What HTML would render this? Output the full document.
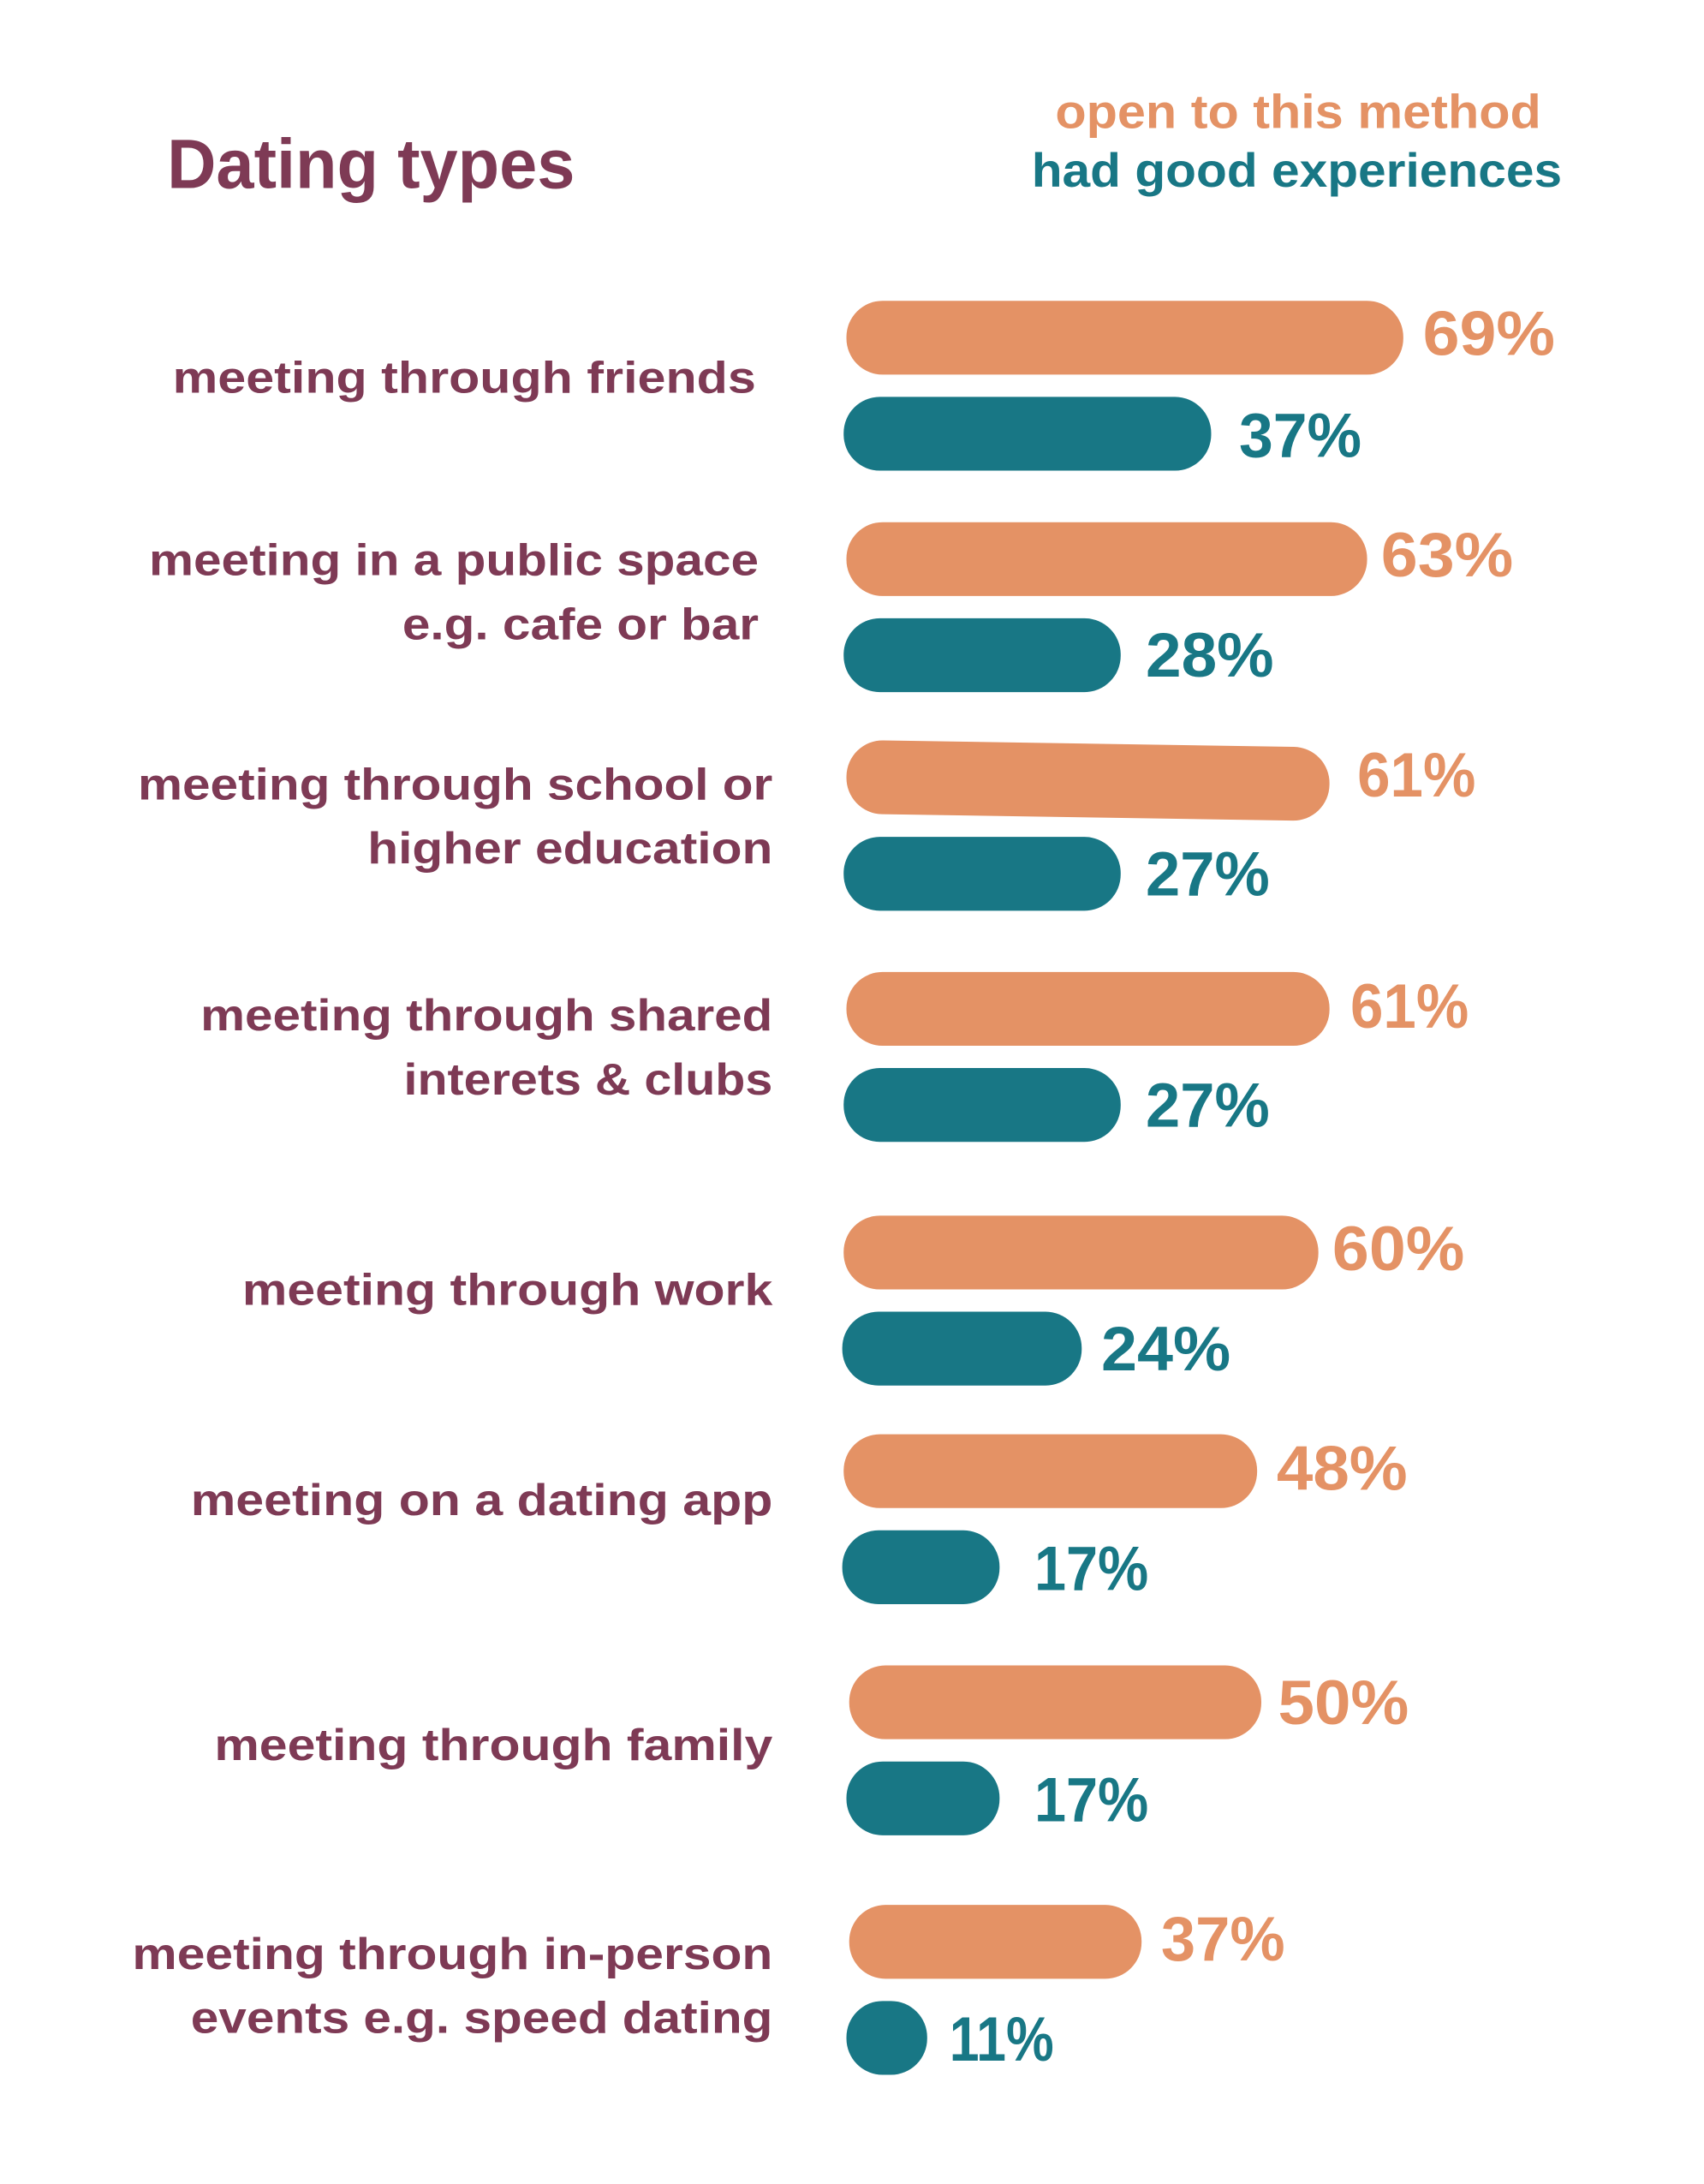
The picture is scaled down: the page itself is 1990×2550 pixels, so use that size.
<!DOCTYPE html>
<html><head><meta charset="utf-8"><style>
html,body{margin:0;padding:0;background:#fff;}
svg{display:block;}
text{font-family:"Liberation Sans",sans-serif;font-weight:bold;}
.l{fill:#7E3A55;font-size:32px;text-anchor:end;}
.o{fill:#E49265;}
.t{fill:#187785;}
.p{font-size:45px;}
</style></head><body>
<svg width="1990" height="2550" viewBox="0 0 1224 1568.4" xmlns="http://www.w3.org/2000/svg">
<text x="120" y="135" fill="#7E3A55" font-size="50" textLength="293" lengthAdjust="spacingAndGlyphs">Dating types</text>
<text x="758" y="92" class="o" font-size="34" textLength="349" lengthAdjust="spacingAndGlyphs">open to this method</text>
<text x="741" y="134" class="t" font-size="34" textLength="381" lengthAdjust="spacingAndGlyphs">had good experiences</text>

<text x="543" y="282" class="l" textLength="419" lengthAdjust="spacingAndGlyphs">meeting through friends</text>
<text x="545" y="413" class="l" textLength="438" lengthAdjust="spacingAndGlyphs">meeting in a public space</text>
<text x="545" y="459" class="l" textLength="256" lengthAdjust="spacingAndGlyphs">e.g. cafe or bar</text>
<text x="555" y="574" class="l" textLength="456" lengthAdjust="spacingAndGlyphs">meeting through school or</text>
<text x="555" y="620" class="l" textLength="291" lengthAdjust="spacingAndGlyphs">higher education</text>
<text x="555" y="740" class="l" textLength="411" lengthAdjust="spacingAndGlyphs">meeting through shared</text>
<text x="555" y="786" class="l" textLength="265" lengthAdjust="spacingAndGlyphs">interets &amp; clubs</text>
<text x="555" y="937" class="l" textLength="381" lengthAdjust="spacingAndGlyphs">meeting through work</text>
<text x="555" y="1088" class="l" textLength="418" lengthAdjust="spacingAndGlyphs">meeting on a dating app</text>
<text x="555" y="1264" class="l" textLength="401" lengthAdjust="spacingAndGlyphs">meeting through family</text>
<text x="555" y="1414" class="l" textLength="460" lengthAdjust="spacingAndGlyphs">meeting through in-person</text>
<text x="555" y="1460" class="l" textLength="418" lengthAdjust="spacingAndGlyphs">events e.g. speed dating</text>

<g class="o">
<rect x="608" y="216" width="400" height="53" rx="26"/>
<rect x="608" y="375" width="374" height="53" rx="26"/>
<rect x="608" y="534" width="347" height="53" rx="26" transform="rotate(0.9 781 560)"/>
<rect x="608" y="698" width="347" height="53" rx="26"/>
<rect x="606" y="873" width="341" height="53" rx="26"/>
<rect x="606" y="1030" width="297" height="53" rx="26"/>
<rect x="610" y="1196" width="296" height="53" rx="26"/>
<rect x="610" y="1368" width="210" height="53" rx="26"/>
</g>
<g class="t">
<rect x="606" y="285" width="264" height="53" rx="26"/>
<rect x="606" y="444" width="199" height="53" rx="26"/>
<rect x="606" y="601" width="199" height="53" rx="26"/>
<rect x="606" y="767" width="199" height="53" rx="26"/>
<rect x="605" y="942" width="172" height="53" rx="26"/>
<rect x="605" y="1099" width="113" height="53" rx="26"/>
<rect x="608" y="1265" width="110" height="53" rx="26"/>
<rect x="608" y="1437" width="58" height="53" rx="26"/>
</g>

<g class="p">
<text x="1022" y="255" class="o" textLength="95" lengthAdjust="spacingAndGlyphs">69%</text>
<text x="890" y="328" class="t" textLength="88" lengthAdjust="spacingAndGlyphs">37%</text>
<text x="992" y="414" class="o" textLength="95" lengthAdjust="spacingAndGlyphs">63%</text>
<text x="823" y="486" class="t" textLength="92" lengthAdjust="spacingAndGlyphs">28%</text>
<text x="975" y="572" class="o" textLength="85" lengthAdjust="spacingAndGlyphs">61%</text>
<text x="823" y="643" class="t" textLength="89" lengthAdjust="spacingAndGlyphs">27%</text>
<text x="970" y="738" class="o" textLength="85" lengthAdjust="spacingAndGlyphs">61%</text>
<text x="823" y="809" class="t" textLength="89" lengthAdjust="spacingAndGlyphs">27%</text>
<text x="957" y="912" class="o" textLength="95" lengthAdjust="spacingAndGlyphs">60%</text>
<text x="791" y="984" class="t" textLength="93" lengthAdjust="spacingAndGlyphs">24%</text>
<text x="917" y="1070" class="o" textLength="94" lengthAdjust="spacingAndGlyphs">48%</text>
<text x="743" y="1142" class="t" textLength="82" lengthAdjust="spacingAndGlyphs">17%</text>
<text x="918" y="1238" class="o" textLength="94" lengthAdjust="spacingAndGlyphs">50%</text>
<text x="743" y="1308" class="t" textLength="82" lengthAdjust="spacingAndGlyphs">17%</text>
<text x="834" y="1408" class="o" textLength="89" lengthAdjust="spacingAndGlyphs">37%</text>
<text x="682" y="1480" class="t" textLength="75" lengthAdjust="spacingAndGlyphs">11%</text>
</g>
</svg>
</body></html>
